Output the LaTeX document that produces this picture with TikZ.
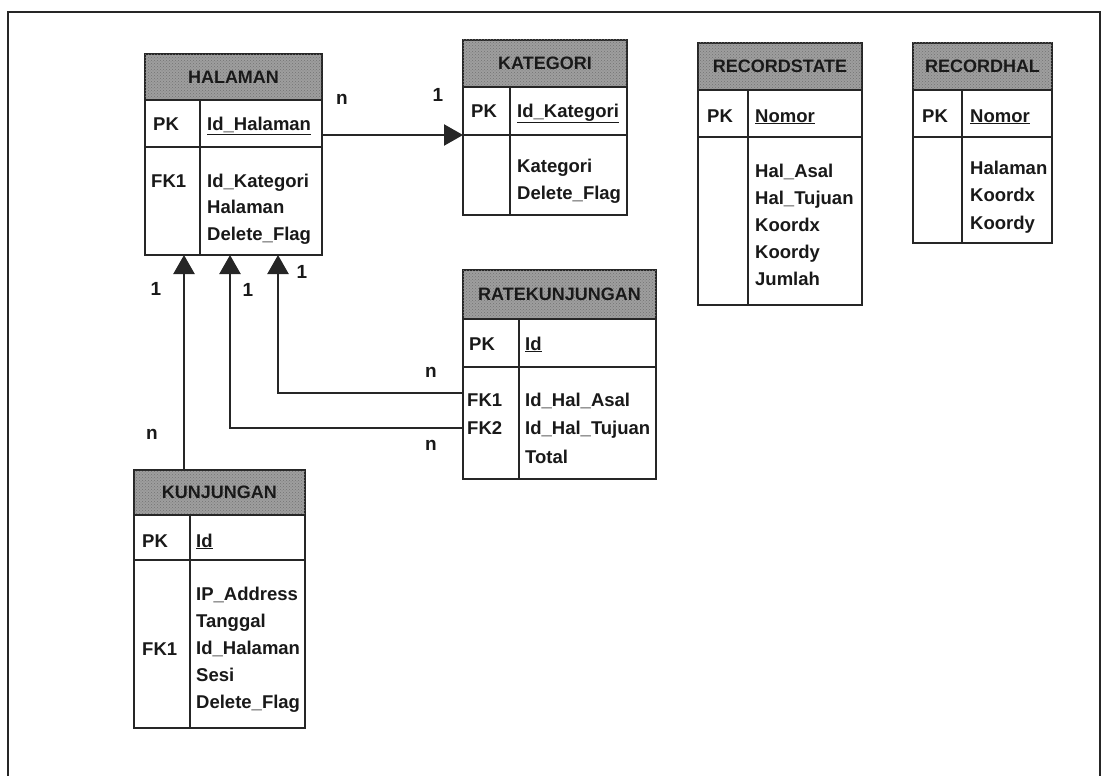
\documentclass[tikz,border=0pt]{standalone}
\usepackage{fontspec}
\setmainfont{Liberation Sans}
\usetikzlibrary{arrows.meta,patterns}
\tikzset{
  tline/.style={line width=2pt, draw=black!85},
  headbox/.style={draw=black!85, line width=2pt, fill=black!38, inner sep=0pt, outer sep=0pt,
    postaction={pattern=crosshatch dots, pattern color=black!55},
    font=\bfseries\fontsize{18}{20}\selectfont, text=black!90},
  cellbox/.style={draw=black!85, line width=2pt, fill=white, inner sep=0pt, outer sep=0pt},
  txt/.style={inner sep=0pt, font=\bfseries\fontsize{18.5}{22}\selectfont, text=black!90},
  lbl/.style={inner sep=0pt, font=\bfseries\fontsize{19}{22}\selectfont, text=black!90},
  rel/.style={line width=2.4pt, draw=black!85, -{Triangle[length=19pt,width=21pt]}},
  frame/.style={line width=2pt, draw=black!85},
}
\newcommand\ertable[9]{%
  \node[headbox, anchor=north west, minimum width={#3pt-#2pt}, minimum height={#5pt-#4pt}] (#1-h) at (#2,#4) {#9};
  \node[cellbox, anchor=north west, minimum width={#3pt-#2pt}, minimum height={#6pt-#5pt}] (#1-pk) at (#2,#5) {};
  \node[cellbox, anchor=north west, minimum width={#3pt-#2pt}, minimum height={#7pt-#6pt}] (#1-b) at (#2,#6) {};
  \draw[tline] (#8,#5) -- (#8,#7);
}
\newcommand\erfields[5]{%
  \foreach \t [count=\i] in {#5} {\node[txt, anchor=base west] (#1-\i) at (#2,{#3+#4*(\i-1)}) {\t};}
}
\begin{document}
\begin{tikzpicture}[x=1pt,y=-1pt]
\fill[white] (0,0) rectangle (1103,776);
\useasboundingbox (0,0) rectangle (1103,776);
\draw[frame] (8,776) -- (8,12) -- (1100,12) -- (1100,776);

% HALAMAN
\ertable{hal}{145}{322}{54}{100}{147}{255}{200}{HALAMAN}
\node[txt, anchor=base west] (hal-pkl) at (153,130.5) {PK};
\node[txt, anchor=base west] (hal-pkf) at (207,130.5) {\underline{Id\_Halaman}};
\node[txt, anchor=base west] (hal-fk1) at (151,187) {FK1};
\erfields{hal-f}{207}{187}{26.5}{Id\_Kategori,Halaman,Delete\_Flag}

% KATEGORI
\ertable{kat}{463}{627}{40}{87}{135}{215}{510}{KATEGORI}
\node[txt, anchor=base west] (kat-pkl) at (471,117) {PK};
\node[txt, anchor=base west] (kat-pkf) at (517,117) {\underline{Id\_Kategori}};
\erfields{kat-f}{517}{172}{27.5}{Kategori,Delete\_Flag}

% RECORDSTATE
\ertable{rs}{698}{862}{43}{90}{137}{305}{748}{RECORDSTATE}
\node[txt, anchor=base west] (rs-pkl) at (707,122) {PK};
\node[txt, anchor=base west] (rs-pkf) at (755,122) {\underline{Nomor}};
\erfields{rs-f}{755}{177}{27}{Hal\_Asal,Hal\_Tujuan,Koordx,Koordy,Jumlah}

% RECORDHAL
\ertable{rh}{913}{1052}{43}{90}{137}{243}{962}{RECORDHAL}
\node[txt, anchor=base west] (rh-pkl) at (922,122) {PK};
\node[txt, anchor=base west] (rh-pkf) at (970,122) {\underline{Nomor}};
\erfields{rh-f}{970}{174}{27.5}{Halaman,Koordx,Koordy}

% RATEKUNJUNGAN
\ertable{rk}{463}{656}{270}{319}{367}{479}{519}{RATEKUNJUNGAN}
\node[txt, anchor=base west] (rk-pkl) at (469,350) {PK};
\node[txt, anchor=base west] (rk-pkf) at (525,350) {\underline{Id}};
\node[txt, anchor=base west] (rk-fk1) at (467,406) {FK1};
\node[txt, anchor=base west] (rk-fk2) at (467,434.5) {FK2};
\erfields{rk-f}{525}{406}{28.5}{Id\_Hal\_Asal,Id\_Hal\_Tujuan,Total}

% KUNJUNGAN
\ertable{kj}{134}{305}{470}{515}{560}{728}{190}{KUNJUNGAN}
\node[txt, anchor=base west] (kj-pkl) at (142,547) {PK};
\node[txt, anchor=base west] (kj-pkf) at (196,547) {\underline{Id}};
\node[txt, anchor=base west] (kj-fk1) at (142,655) {FK1};
\erfields{kj-f}{196}{600}{27.2}{IP\_Address,Tanggal,Id\_Halaman,Sesi,Delete\_Flag}

% relations
\draw[rel] (hal-pk.east |- kat-pk.south west) -- (kat-pk.south west);
\draw[rel] ([xshift=50pt]kj-h.north west) -- ([xshift=39pt]hal-b.south west);
\draw[rel] ([yshift=-26pt]rk-b.north west) -| ([xshift=133pt]hal-b.south west);
\draw[rel] ([yshift=-61pt]rk-b.north west) -| ([xshift=85pt]hal-b.south west);

% cardinality labels
\node[lbl] (c1) at (342,99) {n};
\node[lbl] (c2) at (438,95) {1};
\node[lbl] (c3) at (156,289) {1};
\node[lbl] (c4) at (248,290) {1};
\node[lbl] (c5) at (302,272) {1};
\node[lbl] (c6) at (431,372) {n};
\node[lbl] (c7) at (431,445) {n};
\node[lbl] (c8) at (152,434) {n};
\end{tikzpicture}
\end{document}
